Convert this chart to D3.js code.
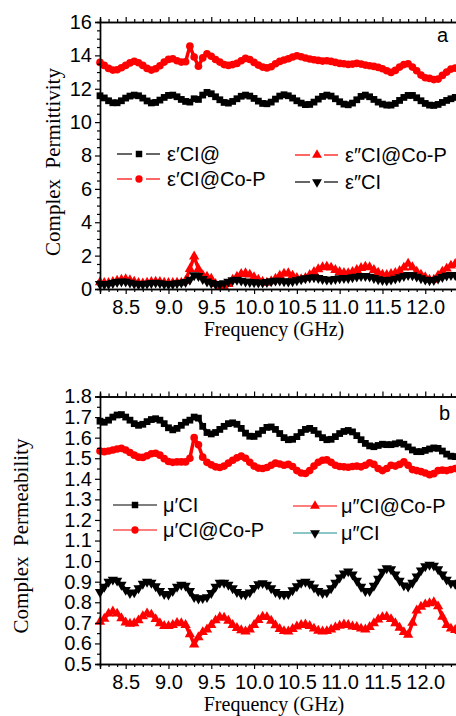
<!DOCTYPE html>
<html>
<head>
<meta charset="utf-8">
<script src="https://cdn.jsdelivr.net/npm/d3@7"></script>
<style>
  body { margin: 0; background: #fff; }
</style>
</head>
<body>
<div class="chart"></div>
<script>
// frequency sweep (GHz), shared by every series
const freq = [8.20, 8.25, 8.30, 8.35, 8.40, 8.45, 8.50, 8.55, 8.60, 8.65, 8.70, 8.75, 8.80, 8.85, 8.90, 8.95,
  9.00, 9.05, 9.10, 9.15, 9.20, 9.25, 9.30, 9.35, 9.40, 9.45, 9.50, 9.55, 9.60, 9.65, 9.70, 9.75, 9.80, 9.85, 9.90, 9.95,
  10.00, 10.05, 10.10, 10.15, 10.20, 10.25, 10.30, 10.35, 10.40, 10.45, 10.50, 10.55, 10.60, 10.65, 10.70, 10.75, 10.80, 10.85, 10.90, 10.95,
  11.00, 11.05, 11.10, 11.15, 11.20, 11.25, 11.30, 11.35, 11.40, 11.45, 11.50, 11.55, 11.60, 11.65, 11.70, 11.75, 11.80, 11.85, 11.90, 11.95,
  12.00, 12.05, 12.10, 12.15, 12.20, 12.25, 12.30, 12.35, 12.40];

// panel a : permittivity
const epsRealCI = [11.58, 11.45, 11.28, 11.16, 11.16, 11.28, 11.44, 11.56, 11.62, 11.58, 11.44, 11.27, 11.15, 11.18, 11.32, 11.48,
  11.60, 11.62, 11.52, 11.36, 11.24, 11.20, 11.40, 11.36, 11.62, 11.78, 11.70, 11.52, 11.34, 11.18, 11.14, 11.24, 11.40, 11.55, 11.62, 11.56,
  11.42, 11.26, 11.12, 11.10, 11.20, 11.38, 11.56, 11.64, 11.58, 11.44, 11.28, 11.14, 11.05, 11.06, 11.20, 11.38, 11.54, 11.62, 11.56, 11.40,
  11.22, 11.08, 11.04, 11.14, 11.34, 11.54, 11.62, 11.52, 11.36, 11.20, 11.08, 11.02, 11.02, 11.12, 11.30, 11.48, 11.60, 11.60, 11.46, 11.28,
  11.12, 11.02, 11.00, 11.06, 11.18, 11.30, 11.40, 11.48, 11.52];
const epsRealCoP = [13.58, 13.40, 13.22, 13.12, 13.14, 13.26, 13.40, 13.55, 13.65, 13.56, 13.40, 13.22, 13.12, 13.20, 13.38, 13.60,
  13.76, 13.80, 13.68, 13.60, 13.62, 14.55, 13.90, 13.35, 13.85, 14.10, 13.95, 13.75, 13.60, 13.45, 13.40, 13.45, 13.52, 13.68, 13.82, 13.75,
  13.58, 13.42, 13.30, 13.25, 13.32, 13.50, 13.64, 13.72, 13.80, 13.90, 13.98, 13.92, 13.84, 13.78, 13.74, 13.70, 13.66, 13.68, 13.64, 13.58,
  13.52, 13.50, 13.46, 13.48, 13.52, 13.48, 13.42, 13.38, 13.34, 13.28, 13.20, 13.08, 12.98, 13.10, 13.30, 13.45, 13.50, 13.30, 13.08, 12.82,
  12.66, 12.62, 12.55, 12.58, 12.80, 13.00, 13.18, 13.24, 13.28];
const epsImagCI = [0.30, 0.28, 0.30, 0.36, 0.42, 0.45, 0.44, 0.38, 0.32, 0.28, 0.28, 0.32, 0.36, 0.38, 0.35, 0.30,
  0.28, 0.30, 0.34, 0.38, 0.42, 0.55, 0.82, 0.78, 0.60, 0.45, 0.36, 0.30, 0.28, 0.34, 0.44, 0.52, 0.55, 0.50, 0.45, 0.42,
  0.40, 0.38, 0.38, 0.42, 0.46, 0.50, 0.50, 0.46, 0.44, 0.46, 0.52, 0.58, 0.64, 0.68, 0.70, 0.66, 0.60, 0.56, 0.56, 0.60,
  0.64, 0.66, 0.66, 0.70, 0.74, 0.78, 0.78, 0.74, 0.66, 0.58, 0.54, 0.52, 0.56, 0.62, 0.70, 0.78, 0.84, 0.82, 0.74, 0.64,
  0.56, 0.52, 0.54, 0.62, 0.72, 0.80, 0.84, 0.84, 0.84];
const epsImagCoP = [0.40, 0.36, 0.36, 0.42, 0.50, 0.56, 0.58, 0.52, 0.44, 0.36, 0.34, 0.38, 0.42, 0.44, 0.42, 0.38,
  0.36, 0.36, 0.38, 0.38, 0.50, 1.20, 1.95, 1.20, 0.82, 0.74, 0.62, 0.30, 0.14, 0.14, 0.30, 0.56, 0.74, 0.90, 0.94, 0.86,
  0.70, 0.56, 0.44, 0.38, 0.46, 0.62, 0.80, 0.92, 0.94, 0.80, 0.66, 0.58, 0.66, 0.84, 1.02, 1.18, 1.30, 1.34, 1.28, 1.14,
  1.02, 0.96, 0.94, 1.02, 1.14, 1.26, 1.34, 1.30, 1.14, 0.98, 0.86, 0.84, 0.90, 0.96, 1.08, 1.28, 1.52, 1.30, 1.04, 0.86,
  0.70, 0.56, 0.56, 0.80, 1.04, 1.22, 1.40, 1.50, 1.56];

// panel b : permeability
const muRealCI = [1.680, 1.675, 1.685, 1.700, 1.710, 1.712, 1.700, 1.685, 1.668, 1.660, 1.665, 1.678, 1.688, 1.692, 1.685, 1.668,
  1.648, 1.638, 1.645, 1.660, 1.675, 1.685, 1.700, 1.695, 1.655, 1.625, 1.618, 1.625, 1.640, 1.655, 1.668, 1.672, 1.665, 1.645, 1.622, 1.607,
  1.606, 1.618, 1.635, 1.650, 1.652, 1.640, 1.620, 1.600, 1.590, 1.592, 1.605, 1.625, 1.640, 1.645, 1.635, 1.618, 1.600, 1.590, 1.592, 1.605,
  1.620, 1.630, 1.635, 1.628, 1.610, 1.590, 1.572, 1.560, 1.556, 1.562, 1.568, 1.566, 1.566, 1.570, 1.575, 1.568, 1.555, 1.540, 1.532, 1.532,
  1.538, 1.545, 1.550, 1.548, 1.535, 1.520, 1.510, 1.508, 1.505];
const muRealCoP = [1.535, 1.532, 1.535, 1.540, 1.545, 1.548, 1.540, 1.528, 1.515, 1.505, 1.504, 1.512, 1.522, 1.524, 1.515, 1.498,
  1.484, 1.480, 1.482, 1.482, 1.482, 1.500, 1.600, 1.565, 1.505, 1.480, 1.468, 1.458, 1.455, 1.462, 1.476, 1.490, 1.502, 1.510, 1.500, 1.480,
  1.462, 1.452, 1.450, 1.455, 1.466, 1.476, 1.472, 1.466, 1.470, 1.460, 1.440, 1.428, 1.426, 1.440, 1.462, 1.480, 1.490, 1.492, 1.480, 1.466,
  1.460, 1.458, 1.456, 1.460, 1.462, 1.458, 1.466, 1.478, 1.470, 1.450, 1.440, 1.450, 1.466, 1.462, 1.470, 1.482, 1.466, 1.445, 1.440, 1.435,
  1.428, 1.420, 1.425, 1.440, 1.442, 1.440, 1.445, 1.450, 1.450];
const muImagCI = [0.850, 0.875, 0.900, 0.910, 0.905, 0.885, 0.860, 0.845, 0.848, 0.868, 0.890, 0.900, 0.895, 0.878, 0.855, 0.840,
  0.838, 0.855, 0.875, 0.885, 0.880, 0.855, 0.825, 0.818, 0.820, 0.825, 0.845, 0.875, 0.895, 0.895, 0.885, 0.868, 0.850, 0.840, 0.837, 0.848,
  0.870, 0.888, 0.893, 0.885, 0.868, 0.850, 0.840, 0.837, 0.840, 0.858, 0.878, 0.895, 0.900, 0.890, 0.872, 0.855, 0.845, 0.848, 0.868, 0.895,
  0.920, 0.940, 0.950, 0.935, 0.905, 0.875, 0.855, 0.855, 0.880, 0.915, 0.948, 0.965, 0.960, 0.935, 0.905, 0.882, 0.876, 0.895, 0.925, 0.955,
  0.975, 0.982, 0.978, 0.960, 0.935, 0.910, 0.893, 0.890, 0.895];
const muImagCoP = [0.705, 0.720, 0.745, 0.755, 0.745, 0.722, 0.702, 0.696, 0.698, 0.712, 0.732, 0.746, 0.740, 0.718, 0.698, 0.685,
  0.684, 0.690, 0.700, 0.698, 0.690, 0.645, 0.595, 0.630, 0.655, 0.668, 0.690, 0.712, 0.728, 0.725, 0.710, 0.690, 0.675, 0.664, 0.658, 0.668,
  0.690, 0.714, 0.730, 0.728, 0.710, 0.688, 0.670, 0.660, 0.658, 0.670, 0.682, 0.690, 0.692, 0.685, 0.672, 0.662, 0.658, 0.660, 0.668, 0.678,
  0.686, 0.692, 0.690, 0.682, 0.680, 0.672, 0.668, 0.680, 0.698, 0.716, 0.728, 0.730, 0.718, 0.698, 0.676, 0.655, 0.642, 0.700, 0.760, 0.778,
  0.790, 0.795, 0.800, 0.780, 0.730, 0.690, 0.672, 0.665, 0.660];

// ticks
const xMajor = [8.5, 9.0, 9.5, 10.0, 10.5, 11.0, 11.5, 12.0];
const xTickLabels = ["8.5", "9.0", "9.5", "10.0", "10.5", "11.0", "11.5", "12.0"];
const xMinor = [8.2, 8.3, 8.4, 8.6, 8.7, 8.8, 8.9, 9.1, 9.2, 9.3, 9.4, 9.6, 9.7, 9.8, 9.9, 10.1, 10.2, 10.3, 10.4,
  10.6, 10.7, 10.8, 10.9, 11.1, 11.2, 11.3, 11.4, 11.6, 11.7, 11.8, 11.9, 12.1, 12.2, 12.3];
const epsMajor = [0, 2, 4, 6, 8, 10, 12, 14, 16];
const epsMinor = [0.5, 1, 1.5, 2.5, 3, 3.5, 4.5, 5, 5.5, 6.5, 7, 7.5, 8.5, 9, 9.5, 10.5, 11, 11.5, 12.5, 13, 13.5, 14.5, 15, 15.5];
const muMajor = [0.5, 0.6, 0.7, 0.8, 0.9, 1.0, 1.1, 1.2, 1.3, 1.4, 1.5, 1.6, 1.7, 1.8];
const muMinor = [0.55, 0.65, 0.75, 0.85, 0.95, 1.05, 1.15, 1.25, 1.35, 1.45, 1.55, 1.65, 1.75];

const RED = "#ff0000", BLACK = "#000000", TEAL = "#1a8c8c";
const SANS = "'Liberation Sans', Arial, sans-serif";
const SERIF = "'Liberation Serif', 'Times New Roman', serif";

const svg = d3.select(".chart").append("svg")
  .attr("width", 456)
  .attr("height", 716);

function drawPanel(cfg) {
  const x = d3.scaleLinear().domain([8.2, 12.4]).range([100, 459.5]);
  const y = d3.scaleLinear().domain(cfg.yDomain).range([cfg.bottom, cfg.top]);
  const g = svg.append("g");

  // data first so the axes sit on top
  cfg.series.forEach(s => {
    const line = d3.line().x((d, i) => x(freq[i])).y(d => y(d));
    g.append("path")
      .attr("d", line(s.values))
      .attr("fill", "none")
      .attr("stroke", s.color)
      .attr("stroke-width", 3.5)
      .attr("stroke-linejoin", "round");
    g.append("g").selectAll("path")
      .data(s.values)
      .join("path")
      .attr("transform", (d, i) => `translate(${x(freq[i])},${y(d)}) rotate(${s.rot || 0})`)
      .attr("d", d3.symbol().type(s.symbol).size(s.size))
      .attr("fill", s.color);
  });

  // x axis bottom
  g.append("g").attr("transform", `translate(0,${cfg.bottom})`)
    .call(d3.axisBottom(x).tickValues(xMinor).tickSize(3).tickFormat(""));
  const xbMaj = g.append("g").attr("transform", `translate(0,${cfg.bottom})`)
    .call(d3.axisBottom(x).tickValues(xMajor).tickSize(5).tickFormat((d, i) => xTickLabels[i]));
  xbMaj.selectAll("text").attr("dy", null).attr("y", cfg.xLabelY)
    .style("font-family", SANS).style("font-size", "20px").attr("fill", "#000");

  // x axis top (no labels)
  g.append("g").attr("transform", `translate(0,${cfg.top})`)
    .call(d3.axisTop(x).tickValues(xMinor).tickSize(3).tickFormat(""));
  g.append("g").attr("transform", `translate(0,${cfg.top})`)
    .call(d3.axisTop(x).tickValues(xMajor).tickSize(5).tickFormat(""));

  // y axis
  g.append("g").attr("transform", "translate(100,0)")
    .call(d3.axisLeft(y).tickValues(cfg.yMinor).tickSize(3).tickFormat(""));
  const ya = g.append("g").attr("transform", "translate(100,0)")
    .call(d3.axisLeft(y).tickValues(cfg.yMajor).tickSize(5).tickPadding(3).tickFormat(cfg.yFormat));
  ya.selectAll("text").style("font-family", SANS).style("font-size", "20px").attr("fill", "#000");

  g.selectAll(".domain").attr("stroke-width", 1.4);
  g.selectAll(".tick line").attr("stroke-width", 1.2);

  // axis titles
  g.append("text")
    .attr("x", 274).attr("y", cfg.xTitleY)
    .attr("text-anchor", "middle")
    .style("font-family", SERIF).style("font-size", "20px")
    .text("Frequency (GHz)");
  g.append("text")
    .attr("transform", `translate(${cfg.yTitleX},${cfg.yTitleY}) rotate(-90)`)
    .attr("text-anchor", "middle")
    .style("font-family", SERIF).style("font-size", "21px")
    .style("white-space", "pre")
    .text(cfg.yTitle);

  // panel letter
  g.append("text")
    .attr("x", cfg.letterX).attr("y", cfg.letterY)
    .style("font-family", SANS).style("font-size", "20px")
    .text(cfg.letter);

  // legend
  cfg.legend.forEach(L => {
    const s = L.s;
    const lg = g.append("g");
    if (L.gap) {
      lg.append("line").attr("x1", L.x).attr("x2", L.x + 15).attr("y1", L.y).attr("y2", L.y)
        .attr("stroke", L.lineColor || s.color).attr("stroke-width", 1.2);
      lg.append("line").attr("x1", L.x + 29).attr("x2", L.x + 43).attr("y1", L.y).attr("y2", L.y)
        .attr("stroke", L.lineColor || s.color).attr("stroke-width", 1.2);
    } else {
      lg.append("line").attr("x1", L.x).attr("x2", L.x + 44).attr("y1", L.y).attr("y2", L.y)
        .attr("stroke", L.lineColor || s.color).attr("stroke-width", 1.2);
    }
    lg.append("path")
      .attr("transform", `translate(${L.x + 22},${L.y}) rotate(${s.rot || 0})`)
      .attr("d", d3.symbol().type(s.symbol).size(42))
      .attr("fill", s.color);
    lg.append("text")
      .attr("x", L.x + L.textDx).attr("y", L.y + 7)
      .style("font-family", SANS).style("font-size", "20px")
      .text(s.name);
  });
}

// panel a
const sA1 = { name: "\u03b5\u2032CI@", values: epsRealCI, color: BLACK, symbol: d3.symbolSquare, size: 46 };
const sA2 = { name: "\u03b5\u2032CI@Co-P", values: epsRealCoP, color: RED, symbol: d3.symbolCircle, size: 46 };
const sA3 = { name: "\u03b5\u2033CI@Co-P", values: epsImagCoP, color: RED, symbol: d3.symbolTriangle, size: 46 };
const sA4 = { name: "\u03b5\u2033CI", values: epsImagCI, color: BLACK, symbol: d3.symbolTriangle, size: 46, rot: 180 };

drawPanel({
  top: 22, bottom: 289, yDomain: [0, 16],
  yMajor: epsMajor, yMinor: epsMinor, yFormat: d3.format("d"),
  xLabelY: 25, xTitleY: 336,
  yTitle: "Complex  Permittivity", yTitleX: 60, yTitleY: 162,
  letter: "a", letterX: 437, letterY: 42,
  series: [sA2, sA1, sA3, sA4],
  legend: [
    { s: sA1, x: 117, y: 154, gap: true, textDx: 50 },
    { s: sA2, x: 117, y: 179, gap: true, textDx: 50 },
    { s: sA3, x: 295, y: 155, gap: true, textDx: 50 },
    { s: sA4, x: 295, y: 182, gap: true, textDx: 50 }
  ]
});

// panel b
const sB1 = { name: "\u03bc\u2032CI", values: muRealCI, color: BLACK, symbol: d3.symbolSquare, size: 46 };
const sB2 = { name: "\u03bc\u2032CI@Co-P", values: muRealCoP, color: RED, symbol: d3.symbolCircle, size: 46 };
const sB3 = { name: "\u03bc\u2033CI@Co-P", values: muImagCoP, color: RED, symbol: d3.symbolTriangle, size: 46 };
const sB4 = { name: "\u03bc\u2033CI", values: muImagCI, color: BLACK, symbol: d3.symbolTriangle, size: 46, rot: 180 };

drawPanel({
  top: 396.5, bottom: 664, yDomain: [0.5, 1.8],
  yMajor: muMajor, yMinor: muMinor, yFormat: d3.format(".1f"),
  xLabelY: 25, xTitleY: 711,
  yTitle: "Complex  Permeability", yTitleX: 28, yTitleY: 536,
  letter: "b", letterX: 439, letterY: 420,
  series: [sB1, sB2, sB3, sB4],
  legend: [
    { s: sB1, x: 113, y: 505, textDx: 50 },
    { s: sB2, x: 113, y: 530, textDx: 50 },
    { s: sB3, x: 293, y: 506, textDx: 48 },
    { s: sB4, x: 293, y: 533, textDx: 48, lineColor: TEAL }
  ]
});
</script>
</body>
</html>
